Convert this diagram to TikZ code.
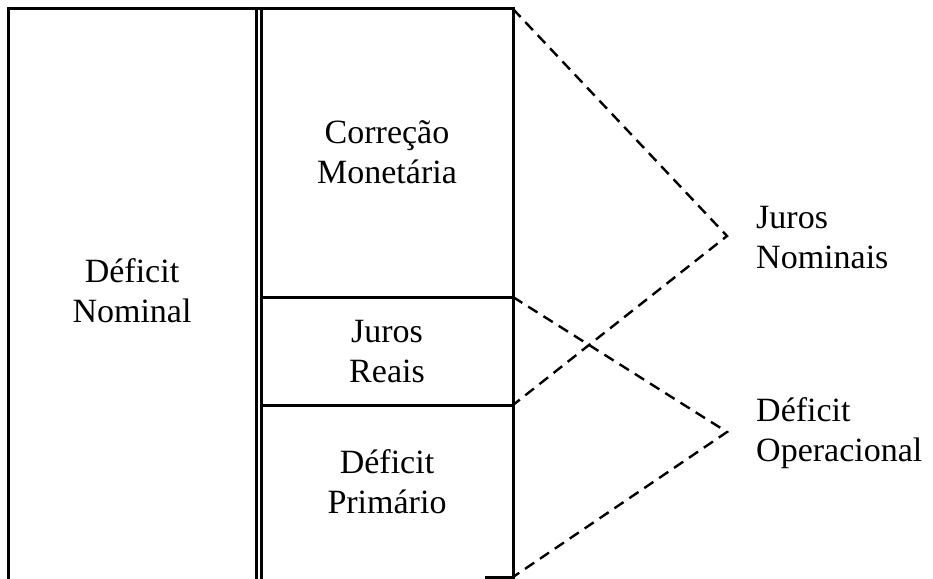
\documentclass[tikz,border=0pt]{standalone}
\usepackage{fontspec}
\setmainfont{Liberation Serif}
\begin{document}
\begin{tikzpicture}[x=1pt,y=-1pt,
  solid line/.style={line width=3pt},
  dash line/.style={line width=2.4pt,dash pattern=on 11pt off 7pt},
  lbl/.style={font=\fontsize{34}{40}\selectfont,align=center,inner sep=0pt},
  side/.style={font=\fontsize{34}{40}\selectfont,align=left,inner sep=0pt,anchor=west}]
\useasboundingbox (0,0) rectangle (933,578);
% coordinates
\coordinate (tl) at (8,9);
\coordinate (bl) at (8,580);
\coordinate (m1t) at (256,9);
\coordinate (m1b) at (256,580);
\coordinate (m2t) at (261,9);
\coordinate (m2b) at (261,580);
\coordinate (rt) at (513,9);
\coordinate (rb) at (513,577);
\coordinate (r1) at (513,297);
\coordinate (l1) at (261,297);
\coordinate (r2) at (513,405);
\coordinate (l2) at (261,405);
\coordinate (bs) at (485,577);
\coordinate (apex1) at (727,236);
\coordinate (apex2) at (727,432);
% boxes
\draw[solid line] (bl) -- (tl) -- (rt) -- (rb) -- (bs);
\draw[solid line] (m1t) -- (m1b);
\draw[solid line] (m2t) -- (m2b);
\draw[solid line] (l1) -- (r1);
\draw[solid line] (l2) -- (r2);
% texts
\node[lbl] (dn) at (132,291) {Déficit\\Nominal};
\node[lbl] (cm) at (387,152) {Correção\\Monetária};
\node[lbl] (jr) at (387,352) {Juros\\Reais};
\node[lbl] (dp) at (387,482) {Déficit\\Primário};
\node[side] (jn) at (756,238) {Juros\\Nominais};
\node[side] (do) at (756,433) {Déficit\\Operacional};
% dashed connectors
\draw[dash line] (rt) -- (apex1) -- (r2);
\draw[dash line] (r1) -- (apex2) -- (rb);
\end{tikzpicture}
\end{document}
